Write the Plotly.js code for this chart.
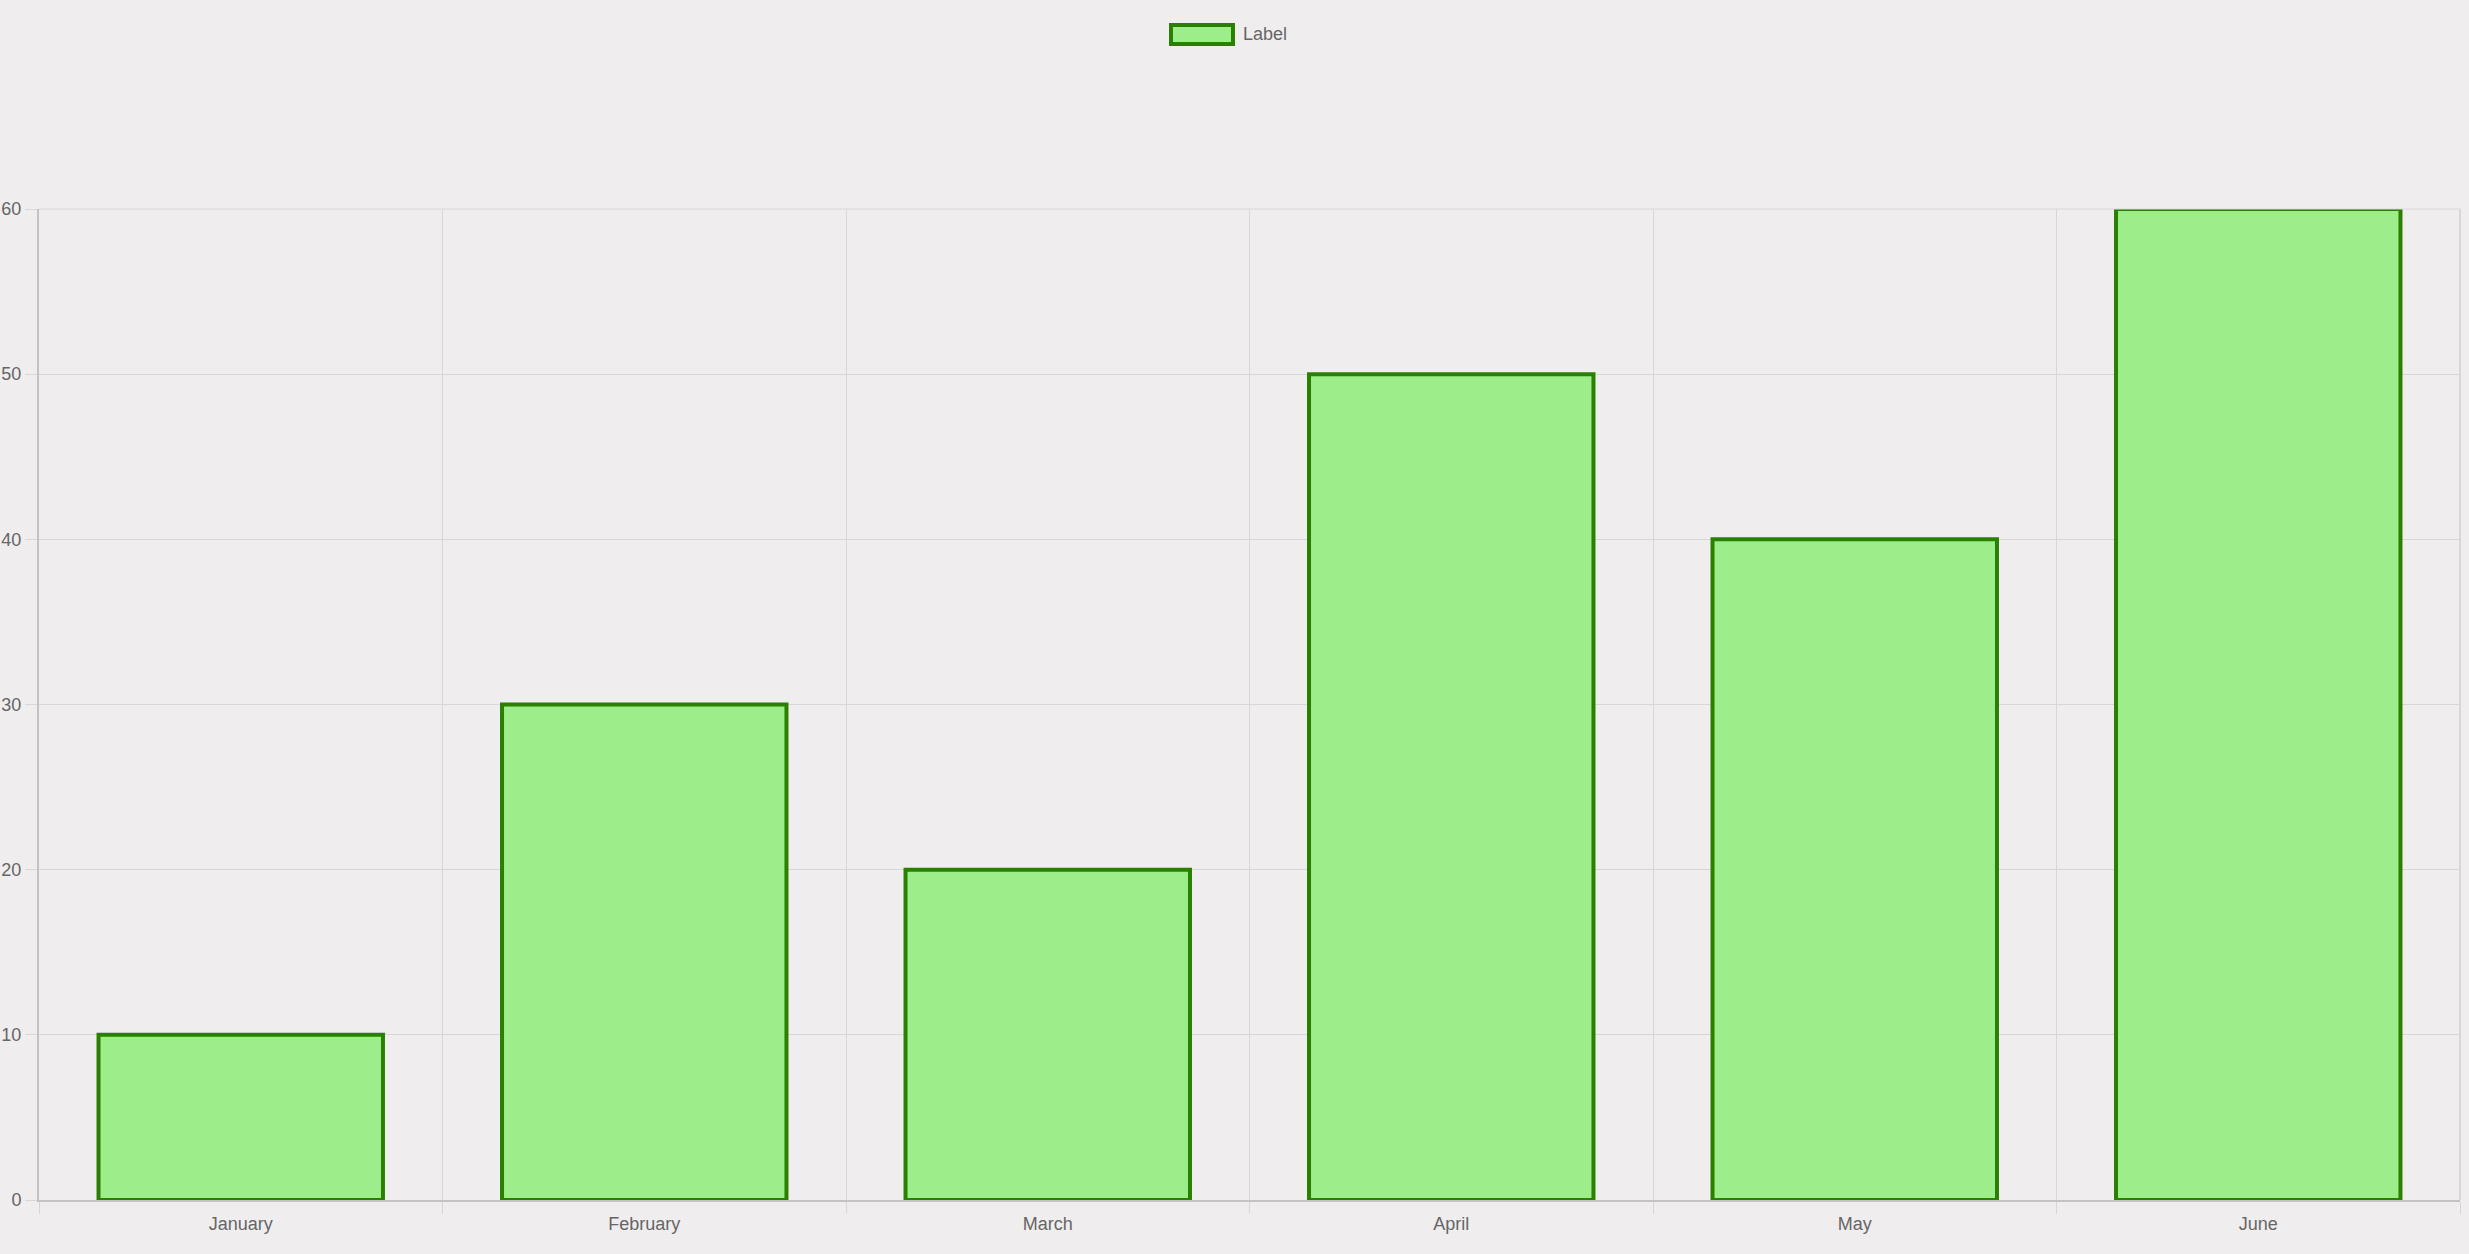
<!DOCTYPE html>
<html>
<head>
<meta charset="utf-8">
<script src="https://cdn.plot.ly/plotly-3.0.1.min.js"></script>
<style>
html,body{margin:0;padding:0;background:#efedee;}
#chart{width:2469px;height:1254px;}
</style>
</head>
<body>
<div id="chart"></div>
<script>
const months = ["January", "February", "March", "April", "May", "June"];
const values = [10, 30, 20, 50, 40, 60];
const seriesName = "Label";
const yTicks = [0, 10, 20, 30, 40, 50, 60];

const fillColor = "#9ded8a";
const borderColor = "#2a8000";
const gridColor = "#d8d6d7";
const axisColor = "#c4c2c3";
const textColor = "#666666";
const font = "Liberation Sans, Arial, Helvetica, sans-serif";

const trace = {
  type: "bar",
  x: months,
  y: values,
  name: seriesName,
  marker: { color: fillColor, line: { color: borderColor, width: 4 } },
  hoverinfo: "x+y",
  showlegend: false
};

const layout = {
  width: 2469,
  height: 1254,
  paper_bgcolor: "#efedee",
  plot_bgcolor: "#efedee",
  margin: { l: 39, r: 9, t: 209, b: 54, pad: 0 },
  bargap: 0.295,
  font: { family: font, size: 18, color: textColor },
  xaxis: {
    type: "category",
    tickson: "boundaries",
    showgrid: true,
    gridcolor: gridColor,
    gridwidth: 1,
    ticks: "outside",
    ticklen: 12,
    tickcolor: gridColor,
    ticklabelstandoff: 6,
    showline: true,
    linecolor: axisColor,
    linewidth: 2,
    tickfont: { family: font, size: 18, color: textColor },
    fixedrange: true
  },
  yaxis: {
    range: [0, 60],
    tickvals: yTicks,
    ticktext: yTicks.map(String),
    showgrid: true,
    gridcolor: gridColor,
    gridwidth: 1,
    zeroline: false,
    ticks: "outside",
    ticklen: 12,
    tickcolor: gridColor,
    showline: true,
    linecolor: axisColor,
    linewidth: 2,
    tickfont: { family: font, size: 18, color: textColor },
    fixedrange: true
  },
  shapes: [
    { type: "line", xref: "paper", yref: "paper", x0: 0, x1: 1, y0: 1, y1: 1,
      line: { color: gridColor, width: 1 } },
    { type: "line", xref: "paper", yref: "paper", x0: 1, x1: 1, y0: 0, y1: 1,
      line: { color: gridColor, width: 2 } },
    { type: "rect", xref: "paper", yref: "paper",
      x0: (1171 - 39) / 2421, x1: (1233 - 39) / 2421,
      y0: (1200 - 44) / 991, y1: (1200 - 25) / 991,
      fillcolor: fillColor, line: { color: borderColor, width: 4 } }
  ],
  annotations: [
    { xref: "paper", yref: "paper", x: (1241 - 39) / 2421, y: (1200 - 34) / 991,
      xanchor: "left", yanchor: "middle", showarrow: false,
      text: seriesName, font: { family: font, size: 18, color: textColor } }
  ]
};

Plotly.newPlot("chart", [trace], layout, { displayModeBar: false, staticPlot: true });
</script>
</body>
</html>
